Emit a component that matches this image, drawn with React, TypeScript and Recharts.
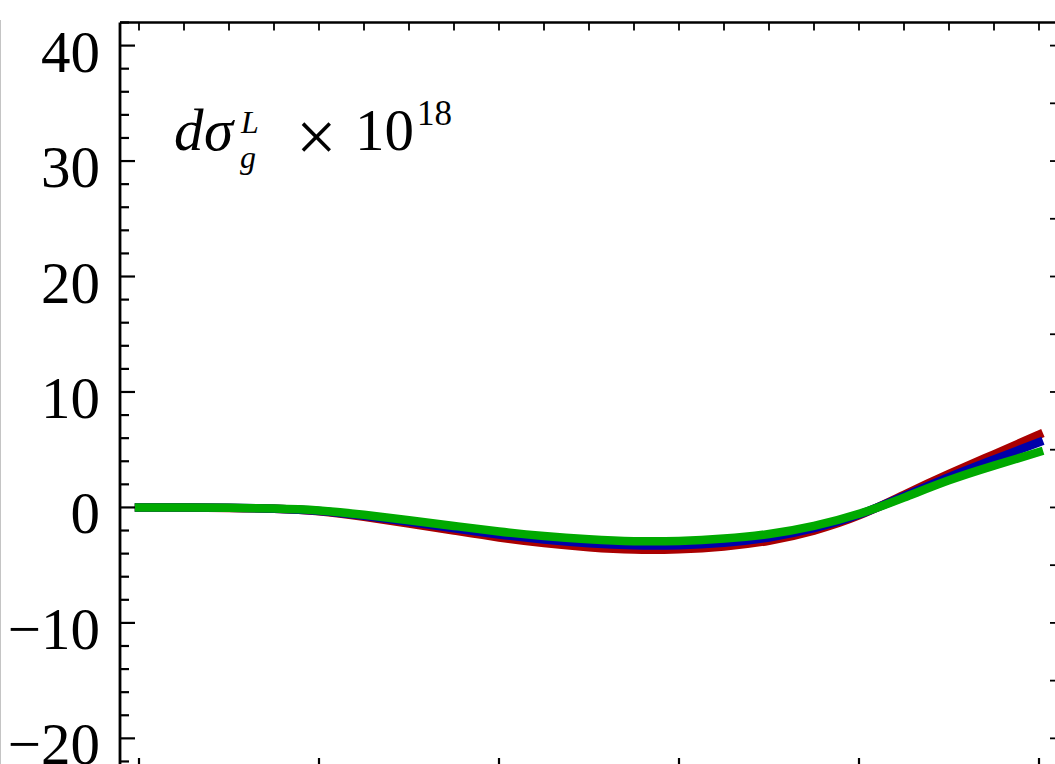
import React from "react";
import { LineChart, Line, XAxis, YAxis } from "recharts";

// Sample positions along the horizontal axis
const xValues = [0, 0.05, 0.1, 0.15, 0.2, 0.25, 0.3, 0.35, 0.4, 0.45, 0.5, 0.55, 0.6, 0.65, 0.7, 0.75, 0.8, 0.85, 0.9, 0.95, 1.0];

// Curves (values already scaled by 10^18)
const redValues = [0, 0, -0.04, -0.12, -0.33, -0.8, -1.39, -2.0, -2.6, -3.09, -3.44, -3.65, -3.62, -3.38, -2.88, -2.0, -0.69, 1.1, 2.9, 4.6, 6.3];
const blueValues = [0, 0, -0.03, -0.11, -0.3, -0.72, -1.25, -1.8, -2.34, -2.78, -3.1, -3.28, -3.27, -3.05, -2.6, -1.8, -0.62, 0.97, 2.62, 4.15, 5.65];
const greenValues = [0, 0, -0.03, -0.1, -0.27, -0.64, -1.11, -1.6, -2.08, -2.47, -2.75, -2.92, -2.9, -2.7, -2.3, -1.6, -0.55, 0.85, 2.35, 3.62, 4.8];

// Tick positions
const leftTicks = [-22, -20, -18, -16, -14, -12, -10, -8, -6, -4, -2, 0, 2, 4, 6, 8, 10, 12, 14, 16, 18, 20, 22, 24, 26, 28, 30, 32, 34, 36, 38, 40, 42];
const leftLabels = [-20, -10, 0, 10, 20, 30, 40];
const rightTicks = [-20, -15, -10, -5, 0, 5, 10, 15, 20, 25, 30, 35, 40];
const xTicks = [0, 0.05, 0.1, 0.15, 0.2, 0.25, 0.3, 0.35, 0.4, 0.45, 0.5, 0.55, 0.6, 0.65, 0.7, 0.75, 0.8, 0.85, 0.9, 0.95, 1.0];
const xMajor = [0, 0.2, 0.4, 0.6, 0.8, 1.0];

const data = xValues.map((x, i) => ({
  x,
  red: redValues[i],
  blue: blueValues[i],
  green: greenValues[i],
}));

// Plot frame
const PLOT_LEFT = 120;
const PLOT_RIGHT = 1058;
const PLOT_TOP = 22.5;
const PLOT_BOTTOM = 773;
const CHART_W = 1078;
const CHART_H = 793;

const FONT = "'Liberation Serif', 'Times New Roman', serif";

const fmt = (v: number) => (v < 0 ? "\u2212" + Math.abs(v) : String(v));

const LeftTick = (props: any) => {
  const { y, payload } = props;
  const v = payload.value;
  const isMajor = leftLabels.some((m) => Math.abs(m - v) < 1e-9);
  return (
    <g>
      <line x1={PLOT_LEFT} x2={PLOT_LEFT + (isMajor ? 15 : 9)} y1={y} y2={y} stroke="#000" strokeWidth={2.2} />
      {isMajor && (
        <text x={100} y={y + 26} textAnchor="end" fontFamily={FONT} fontSize={59} fill="#000">
          {fmt(v)}
        </text>
      )}
    </g>
  );
};

const RightTick = (props: any) => {
  const { y } = props;
  return <line x1={PLOT_RIGHT} x2={PLOT_RIGHT - 8} y1={y} y2={y} stroke="#000" strokeWidth={1.8} />;
};

const TopTick = (props: any) => {
  const { x } = props;
  return <line x1={x} x2={x} y1={PLOT_TOP} y2={PLOT_TOP + 8} stroke="#000" strokeWidth={1.8} />;
};

const BottomTick = (props: any) => {
  const { x, payload } = props;
  const isMajor = xMajor.some((m) => Math.abs(m - payload.value) < 1e-9);
  return (
    <line
      x1={x}
      x2={x}
      y1={PLOT_BOTTOM}
      y2={PLOT_BOTTOM - (isMajor ? 15 : 9)}
      stroke={isMajor ? "#000" : "#444"}
      strokeWidth={isMajor ? 2.2 : 1.6}
    />
  );
};

const xDomain: [number, number] = [-19 / 900, 1 + 19 / 900];
const yDomain: [number, number] = [-23, 42];

export default function App() {
  return (
    <div
      style={{
        position: "fixed",
        left: 0,
        top: 0,
        width: 1055,
        height: 764,
        overflow: "hidden",
        background: "#fff",
      }}
    >
      <div style={{ position: "absolute", left: 0, top: 20, width: 1, height: 744, background: "#c4c4c4" }} />
      <div style={{ position: "absolute", left: 0, top: 0 }}>
        <LineChart
          width={CHART_W}
          height={CHART_H}
          data={data}
          margin={{ top: 12.5, left: 60, right: 10, bottom: 10 }}
        >
          <XAxis
            xAxisId="bottom"
            dataKey="x"
            type="number"
            orientation="bottom"
            domain={xDomain}
            allowDataOverflow
            ticks={xTicks}
            interval={0}
            height={10}
            tickLine={false}
            tickSize={0}
            tickMargin={0}
            tick={<BottomTick />}
            axisLine={{ stroke: "#000", strokeWidth: 2.5 }}
          />
          <XAxis
            xAxisId="top"
            dataKey="x"
            type="number"
            orientation="top"
            domain={xDomain}
            allowDataOverflow
            ticks={xTicks}
            interval={0}
            height={10}
            tickLine={false}
            tickSize={0}
            tickMargin={0}
            tick={<TopTick />}
            axisLine={{ stroke: "#000", strokeWidth: 2.5 }}
          />
          <YAxis
            yAxisId="left"
            orientation="left"
            type="number"
            domain={yDomain}
            allowDataOverflow
            ticks={leftTicks}
            interval={0}
            width={60}
            tickLine={false}
            tickSize={0}
            tickMargin={0}
            tick={<LeftTick />}
            axisLine={{ stroke: "#000", strokeWidth: 2.8 }}
          />
          <YAxis
            yAxisId="right"
            orientation="right"
            type="number"
            domain={yDomain}
            allowDataOverflow
            ticks={rightTicks}
            interval={0}
            width={10}
            tickLine={false}
            tickSize={0}
            tickMargin={0}
            tick={<RightTick />}
            axisLine={{ stroke: "#000", strokeWidth: 2.5 }}
          />
          <Line
            xAxisId="bottom"
            yAxisId="left"
            type="natural"
            dataKey="red"
            stroke="#aa0000"
            strokeWidth={8.5}
            strokeLinecap="square"
            dot={false}
            activeDot={false}
            isAnimationActive={false}
          />
          <Line
            xAxisId="bottom"
            yAxisId="left"
            type="natural"
            dataKey="blue"
            stroke="#0000aa"
            strokeWidth={8.5}
            strokeLinecap="square"
            dot={false}
            activeDot={false}
            isAnimationActive={false}
          />
          <Line
            xAxisId="bottom"
            yAxisId="left"
            type="natural"
            dataKey="green"
            stroke="#00aa00"
            strokeWidth={8.5}
            strokeLinecap="square"
            dot={false}
            activeDot={false}
            isAnimationActive={false}
          />
        </LineChart>
      </div>
      <svg
        width={1055}
        height={764}
        style={{ position: "absolute", left: 0, top: 0, pointerEvents: "none" }}
      >
        <g fontFamily={FONT} fill="#000">
          <text x={174} y={150} fontSize={59} fontStyle="italic">d</text>
          <text x={204} y={150} fontSize={59} fontStyle="italic">σ</text>
          <text x={241} y={133} fontSize={32} fontStyle="italic">L</text>
          <text x={240} y={168} fontSize={32} fontStyle="italic">g</text>
          <text x={296} y={161} fontSize={72}>×</text>
          <text x={355} y={150} fontSize={59}>10</text>
          <text x={417} y={125} fontSize={35}>18</text>
        </g>
      </svg>
    </div>
  );
}
